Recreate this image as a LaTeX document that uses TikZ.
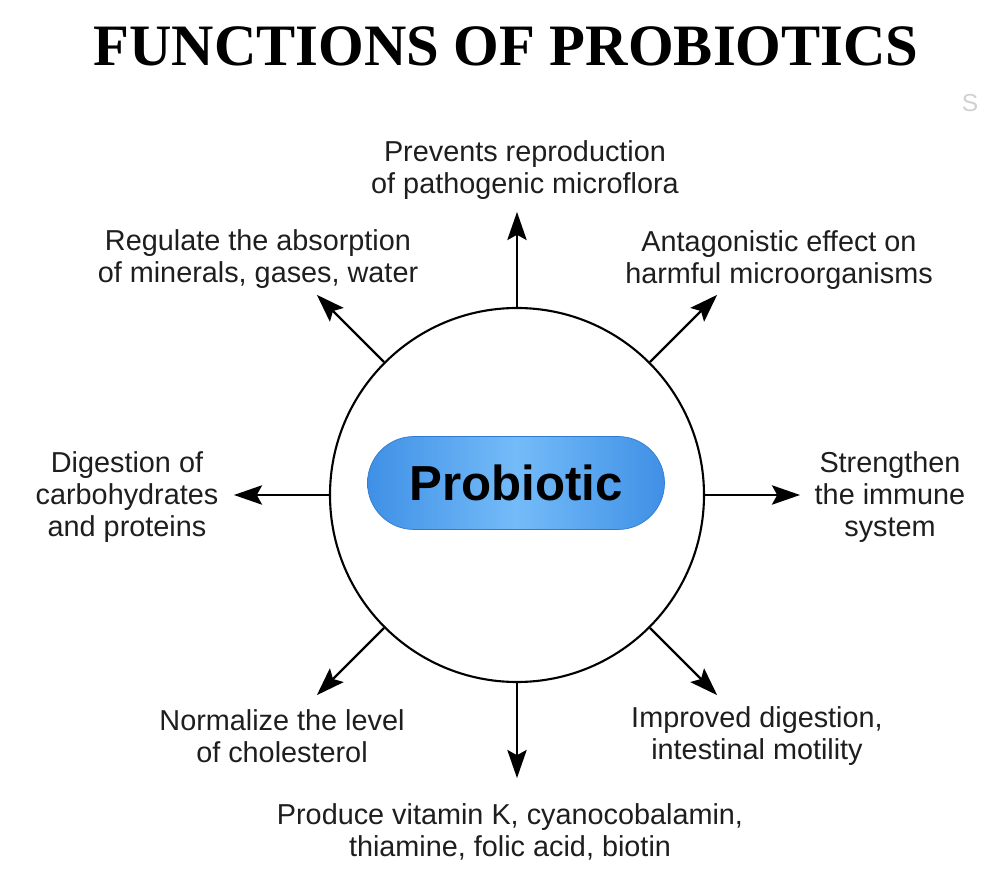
\documentclass[tikz,border=0pt]{standalone}
\usepackage{fontspec}
\setmainfont{Liberation Sans}
\newfontfamily\titlefont{Liberation Serif}
\usetikzlibrary{arrows.meta,positioning}
\definecolor{pillblue}{HTML}{3F90E6}
\definecolor{pilllight}{HTML}{74BBF8}
\definecolor{pilledge}{HTML}{2F7BD2}
\definecolor{labelgray}{HTML}{1E1E1E}

\tikzset{
  fnlabel/.style={align=center, text=labelgray, inner sep=0pt,
    font=\fontsize{16.4}{18.2}\selectfont},
  fnarrow/.style={-{Stealth[length=16pt,width=11pt,inset=3pt]}, line width=1.3pt},
}

\begin{document}
\begin{tikzpicture}
\useasboundingbox[fill=white] (-10.34,-7.6) rectangle (9.44,9.9);
\node[font=\titlefont\bfseries\fontsize{33.4}{40}\selectfont] (title) at (-0.22,8.98) {FUNCTIONS OF PROBIOTICS};
\node[text=black!18, font=\fontsize{14}{16}\selectfont] (mark) at (9.06,7.84) {S};
\node[circle, draw, line width=1.2pt, minimum size=7.48cm] (cell) at (0,0) {};
\node[rounded corners=0.93cm, minimum width=5.94cm, minimum height=1.86cm, draw=pilledge,
  left color=pillblue, right color=pillblue, middle color=pilllight,
  font=\bfseries\fontsize{28}{32}\selectfont] (probiotic) at (-0.02,0.24) {Probiotic};
% arrows out of the cell
\foreach \a in {0,45,...,315}
  \draw[fnarrow] (cell.\a) -- ++(\a:1.9) coordinate (tip\a);
% functions
\node[fnlabel] (prevents) at (0.16,6.49) {Prevents reproduction\\of pathogenic microflora};
\node[fnlabel] (regulate) at (-5.18,4.71) {Regulate the absorption\\of minerals, gases, water};
\node[fnlabel] (antagonist) at (5.24,4.69) {Antagonistic effect on\\harmful microorganisms};
\node[fnlabel] (digestion) at (-7.8,-0.04) {Digestion of\\carbohydrates\\and proteins};
\node[fnlabel] (immune) at (7.46,-0.04) {Strengthen\\the immune\\system};
\node[fnlabel] (motility) at (4.8,-4.83) {Improved digestion,\\intestinal motility};
\node[fnlabel] (vitamins) at (-0.14,-6.73) {Produce vitamin K, cyanocobalamin,\\thiamine, folic acid, biotin};
\node[fnlabel] (cholesterol) at (-4.7,-4.83) {Normalize the level\\of cholesterol};
\end{tikzpicture}
\end{document}
